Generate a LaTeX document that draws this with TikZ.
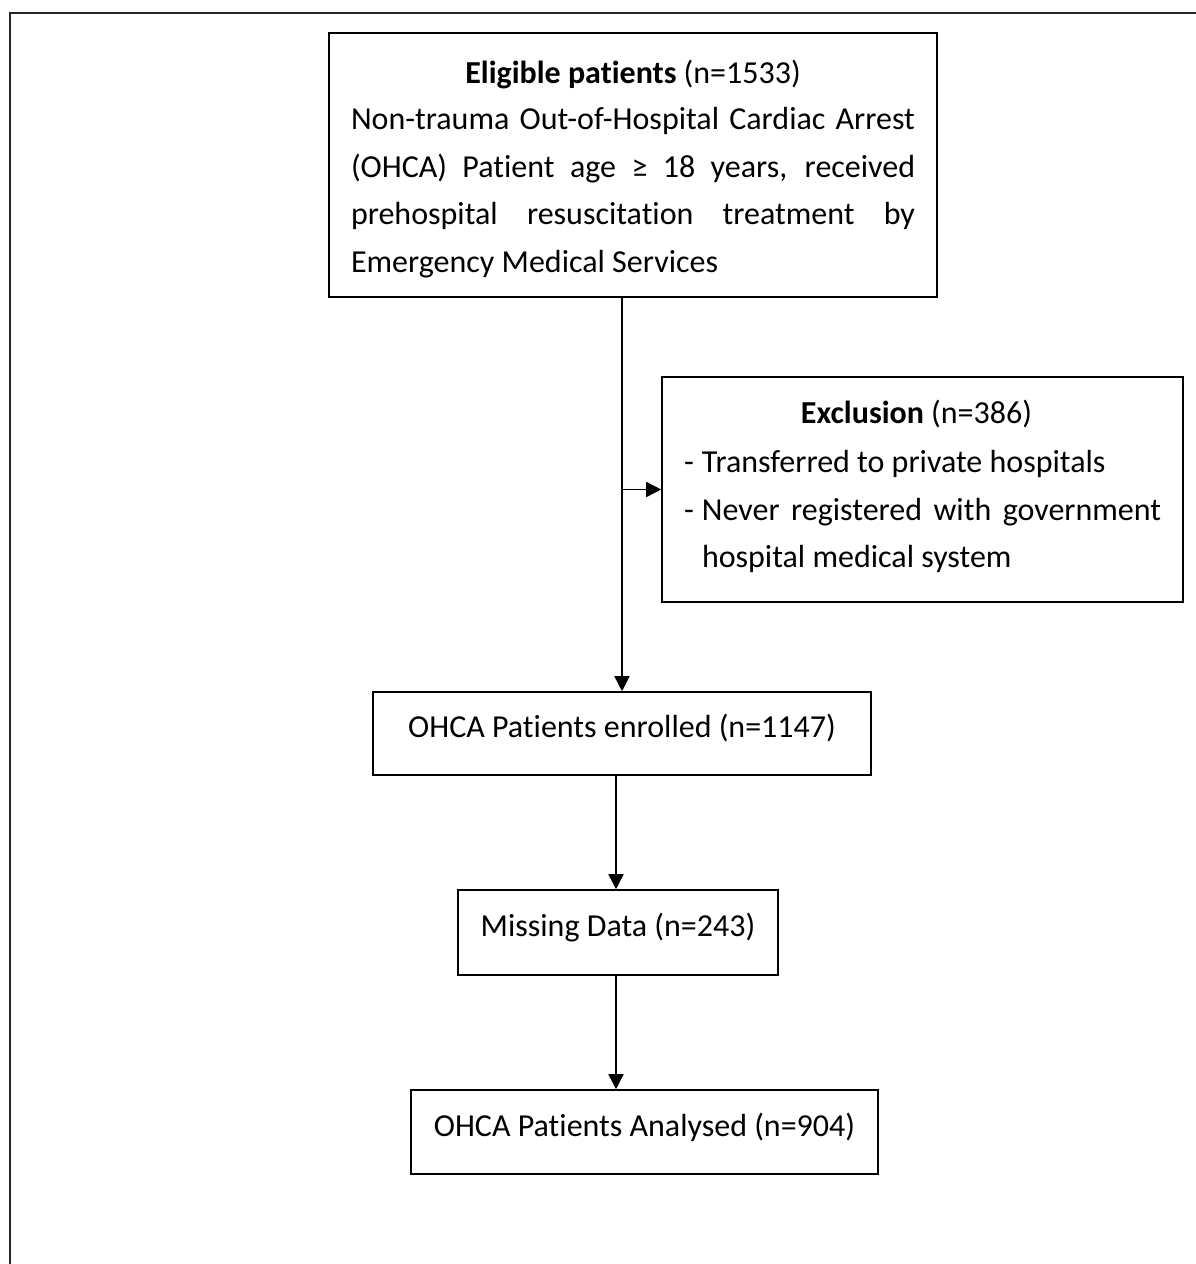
\documentclass[tikz,border=0pt]{standalone}
\usepackage{fontspec}
\setmainfont{Carlito}[Ligatures=NoCommon]
\usetikzlibrary{arrows.meta}
\tikzset{
  box/.style={draw=black, line width=1.6pt, rectangle, inner sep=0pt, font=\fontsize{32}{47.5}\selectfont},
  onebox/.style={box, text height=24pt, text depth=16pt},
  arr/.style={draw=black, line width=1.6pt, -{Triangle[length=15pt,width=15pt]}},
  frameline/.style={draw=black!85, line width=2pt}
}
\begin{document}
\begin{tikzpicture}[x=1pt, y=-1pt]
\useasboundingbox (0,0) rectangle (1196,1264);
\draw[frameline] (1196,13) -- (10,13) -- (10,1264);

\node[box, minimum width=608pt, minimum height=264pt] (top) at (633,165)
{\parbox[c]{564pt}{\vspace*{8pt}%
\makebox[564pt][c]{\textbf{Eligible patients} (n=1533)}\\[-1pt]
\makebox[564pt][s]{Non-trauma Out-of-Hospital Cardiac Arrest}\\
\makebox[564pt][s]{(OHCA) Patient age ≥ 18 years, received}\\
\makebox[564pt][s]{prehospital resuscitation treatment by}\\
\makebox[564pt][l]{Emergency Medical Services}}};

\node[box, minimum width=521pt, minimum height=225pt] (exc) at (922.5,489.5)
{\parbox[c]{477pt}{%
\makebox[477pt][c]{\hspace*{-12pt}\textbf{Exclusion} (n=386)}\\[2pt]
\makebox[18pt][l]{-}\makebox[459pt][l]{Transferred to private hospitals}\\
\makebox[18pt][l]{-}\makebox[459pt][s]{Never registered with government}\\
\makebox[18pt][l]{}\makebox[459pt][l]{hospital medical system}\par\vspace*{6pt}}};

\node[onebox, minimum width=498pt, minimum height=83pt] (enr) at (622,733.5) {OHCA Patients enrolled (n=1147)};
\node[onebox, minimum width=320pt, minimum height=85pt] (mis) at (618,932.5) {Missing Data (n=243)};
\node[onebox, minimum width=467pt, minimum height=84pt] (ana) at (644.5,1132) {OHCA Patients Analysed (n=904)};

\draw[arr] (top.south -| enr.north) -- (enr.north);
\coordinate (br) at (enr.north |- exc.west);
\draw[arr] (br) -- (exc.west);
\draw[arr] ([xshift=-2pt]enr.south -| mis.north) -- ([xshift=-2pt]mis.north);
\draw[arr] ([xshift=-2pt]mis.south) -- ([xshift=-2pt]mis.south |- ana.north);
\end{tikzpicture}
\end{document}
